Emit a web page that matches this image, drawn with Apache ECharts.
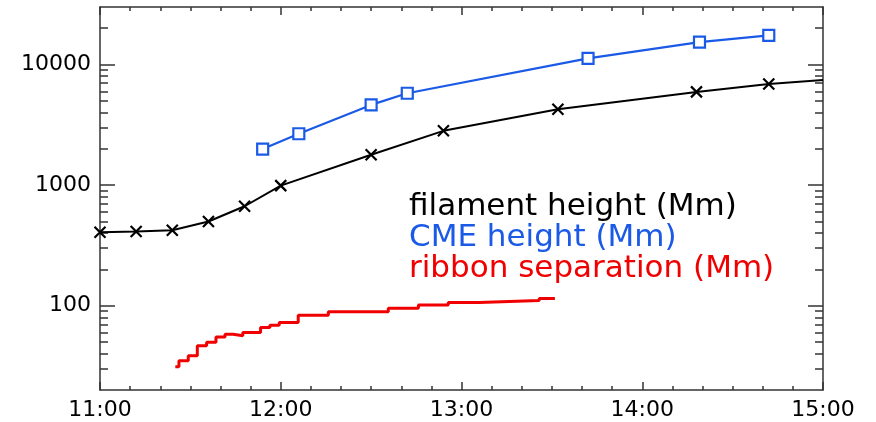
<!DOCTYPE html>
<html><head><meta charset="utf-8">
<script src="https://cdn.jsdelivr.net/npm/echarts@6/dist/echarts.min.js"></script>
<style>html,body{margin:0;padding:0;background:#fff}#c{width:876px;height:422px}</style>
</head><body><div id="c"></div>
<script>
// x positions are minutes after 11:00
const xTickLabels = ['11:00', '12:00', '13:00', '14:00', '15:00'];
const yMajorTicks = [100, 1000, 10000];
const yMinorTicks = [30, 40, 50, 60, 70, 80, 90, 200, 300, 400, 500, 600, 700, 800, 900,
  2000, 3000, 4000, 5000, 6000, 7000, 8000, 9000, 20000];

const filamentTime = [0, 12, 24, 36, 48, 60, 90, 114, 152, 198, 222, 240];
const filamentHeight = [407, 413, 423, 499, 668, 990, 1786, 2820, 4265, 5930, 6900, 7450];

const cmeTime = [54, 66, 90, 102, 162, 199, 222];
const cmeHeight = [1990, 2666, 4625, 5780, 11250, 15350, 17420];

const ribbonTime = [25, 26.2, 29.3, 32.3, 35.4, 38.5, 41.5, 44.2, 47.4, 53.3, 56.4, 59.5, 65.8, 75.8, 95.7, 105.7, 115.6, 125.8, 145.8, 151];
const ribbonSep = [31.2, 35.0, 38.5, 46.5, 49.7, 54.9, 57.9, 56.3, 60.0, 66.0, 69.0, 72.6, 83.4, 88.9, 95.3, 101.5, 106.3, 110.4, 114.7, 114.7];

const names = ['filament height (Mm)', 'CME height (Mm)', 'ribbon separation (Mm)'];
const colors = ['#000000', '#1a5ae6', '#f00000'];

const FONT = 'DejaVu Sans';
const axisCol = '#333';
const tickStyle = { color: axisCol, width: 1.5 };

function yAx(pos, ticks, len, withLine, withLabel) {
  return {
    type: 'log', position: pos, min: 20, max: 30000, logBase: 10,
    axisLine: { show: withLine, lineStyle: { color: axisCol, width: 1.5 } },
    axisTick: { show: true, inside: true, length: len, customValues: ticks, lineStyle: tickStyle },
    axisLabel: { show: withLabel, customValues: ticks, color: '#000', fontFamily: FONT, fontSize: 22, margin: 9,
      formatter: v => String(Math.round(v)) },
    splitLine: { show: false }, minorTick: { show: false }, minorSplitLine: { show: false }
  };
}
function xAx(pos, withLabel) {
  return {
    type: 'value', position: pos, min: 0, max: 240, interval: 60,
    axisLine: { show: true, onZero: false, lineStyle: { color: axisCol, width: 1.5 } },
    axisTick: { show: true, inside: true, length: 8, lineStyle: tickStyle },
    minorTick: { show: true, splitNumber: 6, length: 4, lineStyle: tickStyle },
    axisLabel: { show: withLabel, color: '#000', fontFamily: FONT, fontSize: 22, margin: 9,
      formatter: v => xTickLabels[Math.round(v / 60)] },
    splitLine: { show: false }
  };
}

const chart = echarts.init(document.getElementById('c'), null, { renderer: 'canvas' });
chart.setOption({
  animation: false,
  backgroundColor: '#fff',
  grid: { left: 100, right: 53, top: 7, bottom: 32, containLabel: false },
  xAxis: [xAx('bottom', true), xAx('top', false)],
  yAxis: [
    yAx('left', yMajorTicks, 15, true, true),
    yAx('left', yMinorTicks, 8, false, false),
    yAx('right', yMajorTicks, 15, true, false),
    yAx('right', yMinorTicks, 8, false, false)
  ],
  legend: {
    orient: 'vertical', left: 399, top: 186, icon: 'none', itemWidth: 0, itemHeight: 10, itemGap: 0,
    selectedMode: false,
    textStyle: { fontFamily: FONT, fontSize: 31, lineHeight: 31 },
    data: names.map((n, i) => ({ name: n, textStyle: { color: colors[i] } }))
  },
  series: [
    {
      name: names[0], type: 'line', xAxisIndex: 0, yAxisIndex: 0,
      data: filamentTime.map((t, i) => i === filamentTime.length - 1 ? { value: [t, filamentHeight[i]], symbol: 'none' } : [t, filamentHeight[i]]),
      symbol: 'path://M0,0L10,10M10,0L0,10', symbolSize: 11, showAllSymbol: true,
      lineStyle: { color: colors[0], width: 2 },
      itemStyle: { color: colors[0], borderColor: colors[0], borderWidth: 2.2 }
    },
    {
      name: names[1], type: 'line', xAxisIndex: 0, yAxisIndex: 0,
      data: cmeTime.map((t, i) => [t, cmeHeight[i]]),
      symbol: 'rect', symbolSize: 11,
      lineStyle: { color: colors[1], width: 2.2 },
      itemStyle: { color: '#fff', borderColor: colors[1], borderWidth: 2.2 }
    },
    {
      name: names[2], type: 'line', xAxisIndex: 0, yAxisIndex: 0, step: 'end',
      data: ribbonTime.map((t, i) => [t, ribbonSep[i]]),
      symbol: 'none',
      lineStyle: { color: colors[2], width: 3 },
      itemStyle: { color: colors[2] }
    }
  ]
});
</script></body></html>
